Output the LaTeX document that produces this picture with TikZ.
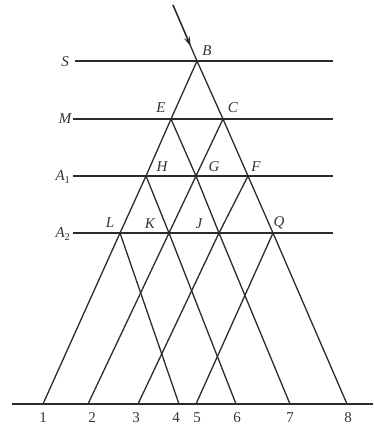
\documentclass[tikz,border=0pt]{standalone}
\usepackage{fontspec}
\setmainfont{Liberation Serif}
\usepackage{tikz}
\usetikzlibrary{arrows.meta,calc}
\definecolor{inkline}{HTML}{2B2B2B}
\definecolor{inktext}{HTML}{333333}

\begin{document}
\begin{tikzpicture}[
  x=1pt, y=-1pt,
  plane/.style={draw=inkline, line width=2pt},
  ray/.style={draw=inkline, line width=1.3pt},
  lbl/.style={inner sep=0pt, text=inktext, font=\fontsize{15}{18}\selectfont\itshape},
  num/.style={inner sep=0pt, text=inktext, font=\fontsize{15}{18}\selectfont}
]
  \useasboundingbox (0,0) rectangle (373,429);
  % layers
  \coordinate (Sa) at (75,61);  \coordinate (Sb) at (333,61);
  \coordinate (Ma) at (73,119); \coordinate (Mb) at (333,119);
  \coordinate (Aa) at (73,176); \coordinate (Ab) at (333,176);
  \coordinate (Ba) at (73,233); \coordinate (Bb) at (333,233);
  \coordinate (base0) at (12,404); \coordinate (base9) at (373,404);
  \node[lbl] (labS) at (65,62) {S};
  \node[lbl] (labM) at (65,119) {M};
  \node[lbl] (labA1) at (63,177) {A\textsubscript{\upshape 1}};
  \node[lbl] (labA2) at (63,234) {A\textsubscript{\upshape 2}};
  \draw[plane] (Sa) -- (Sb);
  \draw[plane] (Ma) -- (Mb);
  \draw[plane] (Aa) -- (Ab);
  \draw[plane] (Ba) -- (Bb);
  \draw[line width=1.4pt, draw=inkline] (base0) -- (base9);
  % ray points
  \coordinate (src) at (173,5);
  \coordinate (B) at (197,61);
  \coordinate (E) at (171,119);
  \coordinate (C) at (223,119);
  \coordinate (H) at (146,176);
  \coordinate (G) at (196,176);
  \coordinate (F) at (248,176);
  \coordinate (L) at (120,233);
  \coordinate (K) at (169,233);
  \coordinate (J) at (219,233);
  \coordinate (Q) at (273,233);
  \foreach \n/\x in {1/43,2/88,3/138,4/179,5/196,6/236,7/290,8/347}
    \coordinate (p\n) at (\x,404);
  \node[lbl] (labB) at (207,51) {B};
  \node[lbl] (labE) at (161,108) {E};
  \node[lbl] (labC) at (233,108) {C};
  \node[lbl] (labH) at (162,167) {H};
  \node[lbl] (labG) at (214,167) {G};
  \node[lbl] (labF) at (256,167) {F};
  \node[lbl] (labL) at (110,223) {L};
  \node[lbl] (labK) at (150,224) {K};
  \node[lbl] (labJ) at (199,224) {J};
  \node[lbl] (labQ) at (279,223) {Q};
  \foreach \n/\x in {1/43,2/92,3/136,4/176,5/197,6/237,7/290,8/348}
    \node[num] (lab\n) at (\x,418) {\n};
  % incident ray and splitting
  \draw[ray] (src) -- (B);
  \draw[ray, -{Stealth[length=10pt,width=6pt]}] (src) -- ($(src)!0.74!(B)$);
  \draw[ray] (B) -- (E) -- (H) -- (L) -- (p1);
  \draw[ray] (B) -- (C) -- (F) -- (Q) -- (p8);
  \draw[ray] (E) -- (G) -- (J) -- (p3);
  \draw[ray] (C) -- (G) -- (K) -- (p2);
  \draw[ray] (H) -- (K) -- (p6);
  \draw[ray] (F) -- (J) -- (p7);
  \draw[ray] (L) -- (p4);
  \draw[ray] (Q) -- (p5);
\end{tikzpicture}
\end{document}
